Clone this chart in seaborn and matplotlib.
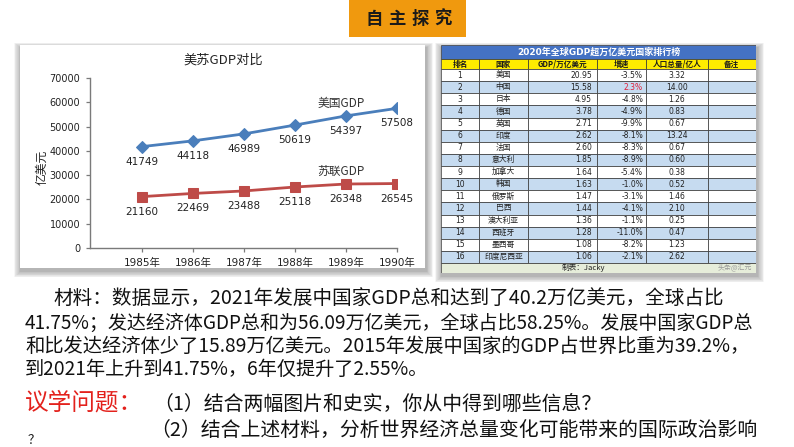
import numpy as np
import pandas as pd
import matplotlib
matplotlib.use("Agg")
import matplotlib.pyplot as plt
from matplotlib.patches import Rectangle
import seaborn as sns

# ---------------- data ----------------
years = ["1985年", "1986年", "1987年", "1988年", "1989年", "1990年"]
usa_gdp = [41749, 44118, 46989, 50619, 54397, 57508]
ussr_gdp = [21160, 22469, 23488, 25118, 26348, 26545]
y_ticks = [0, 10000, 20000, 30000, 40000, 50000, 60000, 70000]

table_title = "2020年全球GDP超万亿美元国家排行榜"
table_header = ["排名", "国家", "GDP/万亿美元", "增速", "人口总量/亿人", "备注"]
ranks = list(range(1, 17))
countries = ["美国", "中国", "日本", "德国", "英国", "印度", "法国", "意大利",
             "加拿大", "韩国", "俄罗斯", "巴西", "澳大利亚", "西班牙", "墨西哥", "印度尼西亚"]
gdp_2020 = [20.95, 15.58, 4.95, 3.78, 2.71, 2.62, 2.60, 1.85,
            1.64, 1.63, 1.47, 1.44, 1.36, 1.28, 1.08, 1.06]
growth = [-3.5, 2.3, -4.8, -4.9, -9.9, -8.1, -8.3, -8.9,
          -5.4, -1.0, -3.1, -4.1, -1.1, -11.0, -8.2, -2.1]
population = [3.32, 14.00, 1.26, 0.83, 0.67, 13.24, 0.67, 0.60,
              0.38, 0.52, 1.46, 2.10, 0.25, 0.47, 1.23, 2.62]

para_lines = [
    "材料：数据显示，2021年发展中国家GDP总和达到了40.2万亿美元，全球占比",
    "41.75%；发达经济体GDP总和为56.09万亿美元，全球占比58.25%。发展中国家GDP总",
    "和比发达经济体少了15.89万亿美元。2015年发展中国家的GDP占世界比重为39.2%，",
    "到2021年上升到41.75%，6年仅提升了2.55%。",
]
q_head = "议学问题："
q1 = "（1）结合两幅图片和史实，你从中得到哪些信息？"
q2 = "（2）结合上述材料，分析世界经济总量变化可能带来的国际政治影响"

# ---------------- figure ----------------
sns.set_theme(style="white")
plt.rcParams["font.family"] = ["DejaVu Sans", "Noto Sans CJK SC"]
CJK = ["Noto Sans CJK SC", "DejaVu Sans"]

W, H = 794, 447
fig = plt.figure(figsize=(W / 100, H / 100), dpi=100)
fig.patch.set_facecolor("white")


def rect(x0, y0, x1, y1):
    return [x0 / W, 1 - y1 / H, (x1 - x0) / W, (y1 - y0) / H]


bg = fig.add_axes([0, 0, 1, 1], zorder=0)
bg.set_xlim(0, W)
bg.set_ylim(H, 0)
bg.axis("off")


def panel(x0, y0, x1, y1):
    for k in range(9, 0, -1):
        bg.add_patch(Rectangle((x0 - k * 0.8 + 1, y0 - k * 0.6 + 3),
                               (x1 - x0) + k * 1.6, (y1 - y0) + k * 1.3,
                               facecolor="black", alpha=0.035, lw=0))
    bg.add_patch(Rectangle((x0, y0), x1 - x0, y1 - y0, facecolor="white", lw=0))


panel(20, 45, 425, 268)
panel(441, 45, 756, 273)

# badge
bg.add_patch(Rectangle((349, 0), 117, 37, facecolor="#F0990E", lw=0))
for ch, xx in zip("自主探究", [374, 397, 420, 443]):
    bg.text(xx, 19, ch, ha="center", va="center", fontsize=12.5,
            fontweight="bold", color="#1a1a1a", family=CJK)

# ---------------- line chart ----------------
ax = fig.add_axes(rect(90, 78, 397, 248), zorder=2)
ax.set_facecolor("white")
xs = np.arange(len(years))
df = pd.DataFrame({"x": np.concatenate([xs, xs]),
                   "gdp": usa_gdp + ussr_gdp,
                   "country": ["美国GDP"] * len(xs) + ["苏联GDP"] * len(xs)})
sns.lineplot(data=df[df.country == "美国GDP"], x="x", y="gdp", ax=ax,
             color="#4A7EBB", linewidth=2, marker="D", markersize=6,
             markeredgecolor="#4A7EBB", legend=False)
sns.lineplot(data=df[df.country == "苏联GDP"], x="x", y="gdp", ax=ax,
             color="#BE4B48", linewidth=2, marker="s", markersize=6.5,
             markeredgecolor="#BE4B48", legend=False)
ax.set_xlim(-1.02, 5)
ax.set_ylim(0, 70000)
ax.set_xticks(xs)
ax.set_xticklabels(years, fontsize=7.5, color="#222222")
ax.set_yticks(y_ticks)
ax.set_yticklabels([str(v) for v in y_ticks], fontsize=7, color="#222222")
ax.set_xlabel("")
ax.set_ylabel("")
for s in ["top", "right"]:
    ax.spines[s].set_visible(False)
for s in ["left", "bottom"]:
    ax.spines[s].set_visible(True)
    ax.spines[s].set_color("#7a7a7a")
    ax.spines[s].set_linewidth(1.0)
ax.tick_params(axis="both", direction="out", length=3, width=0.9,
               color="#7a7a7a", left=True, bottom=True, pad=4)
ax.tick_params(axis="x", pad=4)
for vals in (usa_gdp, ussr_gdp):
    for i, v in enumerate(vals):
        ax.annotate(str(v), (i, v), xytext=(0, -15), textcoords="offset pixels",
                    ha="center", va="center", fontsize=7.5, color="#222222")
ax.text(3.9, 59700, "美国GDP", ha="center", va="center", fontsize=8.5,
        color="#333333", family=CJK)
ax.text(3.9, 31700, "苏联GDP", ha="center", va="center", fontsize=8.5,
        color="#333333", family=CJK)
bg.text(223, 60, "美苏GDP对比", ha="center", va="center", fontsize=9.5,
        color="#222222", family=CJK)
bg.text(42, 167, "亿美元", ha="center", va="center", fontsize=8.5,
        rotation=90, color="#222222", family=CJK)

# ---------------- table ----------------
tax = fig.add_axes(rect(441, 45, 756, 273), zorder=2)
tx0, tx1, ty0, ty1 = 441, 756, 45, 273
tax.set_xlim(tx0, tx1)
tax.set_ylim(ty1, ty0)
tax.axis("off")
col_edges = [441, 479, 528, 597, 646, 708, 756]
title_h, head_h, foot_h = 14, 10, 10
row0 = ty0 + title_h + head_h
row_h = (ty1 - foot_h - row0) / len(ranks)
lc = "#333333"
lw = 0.5
tax.add_patch(Rectangle((tx0, ty0), tx1 - tx0, title_h, facecolor="#4472C4",
                        edgecolor=lc, lw=lw))
tax.text((tx0 + tx1) / 2, ty0 + title_h / 2, table_title, ha="center", va="center",
         fontsize=6.5, fontweight="bold", color="white")
for j, name in enumerate(table_header):
    a, b = col_edges[j], col_edges[j + 1]
    tax.add_patch(Rectangle((a, ty0 + title_h), b - a, head_h, facecolor="#FFEC00",
                            edgecolor=lc, lw=lw))
    tax.text((a + b) / 2, ty0 + title_h + head_h / 2, name, ha="center", va="center",
             fontsize=5.5, fontweight="bold", color="#1a1a1a", family=CJK)
for i in range(len(ranks)):
    y = row0 + i * row_h
    fc = "white" if i % 2 == 0 else "#C6DBF0"
    for j in range(len(table_header)):
        a, b = col_edges[j], col_edges[j + 1]
        tax.add_patch(Rectangle((a, y), b - a, row_h, facecolor=fc,
                                edgecolor=lc, lw=lw))
    yc = y + row_h / 2
    tax.text((col_edges[0] + col_edges[1]) / 2, yc, str(ranks[i]), ha="center",
             va="center", fontsize=5.5, color="#222222")
    tax.text((col_edges[1] + col_edges[2]) / 2, yc, countries[i], ha="center",
             va="center", fontsize=5.6, color="#222222", family=CJK)
    tax.text(col_edges[3] - 5, yc, f"{gdp_2020[i]:.2f}", ha="right",
             va="center", fontsize=5.5, color="#222222")
    gcol = "#E0203A" if growth[i] > 0 else "#222222"
    tax.text(col_edges[4] - 3, yc, f"{growth[i]:.1f}%", ha="right",
             va="center", fontsize=5.5, color=gcol)
    tax.text((col_edges[4] + col_edges[5]) / 2, yc, f"{population[i]:.2f}",
             ha="center", va="center", fontsize=5.5, color="#222222")
tax.add_patch(Rectangle((tx0, ty1 - foot_h), tx1 - tx0, foot_h, facecolor="#E6EDDA",
                        edgecolor=lc, lw=lw))
tax.text((tx0 + tx1) / 2 - 15, ty1 - foot_h / 2, "制表：Jacky", ha="center",
         va="center", fontsize=5.5, color="#222222", family=CJK)
tax.text(tx1 - 4, ty1 - foot_h / 2 - 1, "头条@汇元", ha="right", va="center",
         fontsize=5, color="#9a9a9a", family=CJK)

# ---------------- paragraph ----------------
line_y = [298, 323, 346.5, 369.5]
line_x = [53, 25, 25, 25]
line_fs = [14.1, 13.7, 13.9, 13.8]
for t, xx, yy, fs in zip(para_lines, line_x, line_y, line_fs):
    bg.text(xx, yy, t, ha="left", va="center", fontsize=fs, color="#111111",
            family=CJK)
bg.text(25, 403, q_head, ha="left", va="center", fontsize=17, color="#E3211C",
        family=CJK)
bg.text(153, 404, q1, ha="left", va="center", fontsize=14.3, color="#111111",
        family=CJK)
bg.text(150, 430, q2, ha="left", va="center", fontsize=14.3, color="#111111",
        family=CJK)
bg.text(28, 441, "？", ha="left", va="center", fontsize=9, color="#111111",
        family=CJK)

fig.savefig("out.png", dpi=100, facecolor="white")
